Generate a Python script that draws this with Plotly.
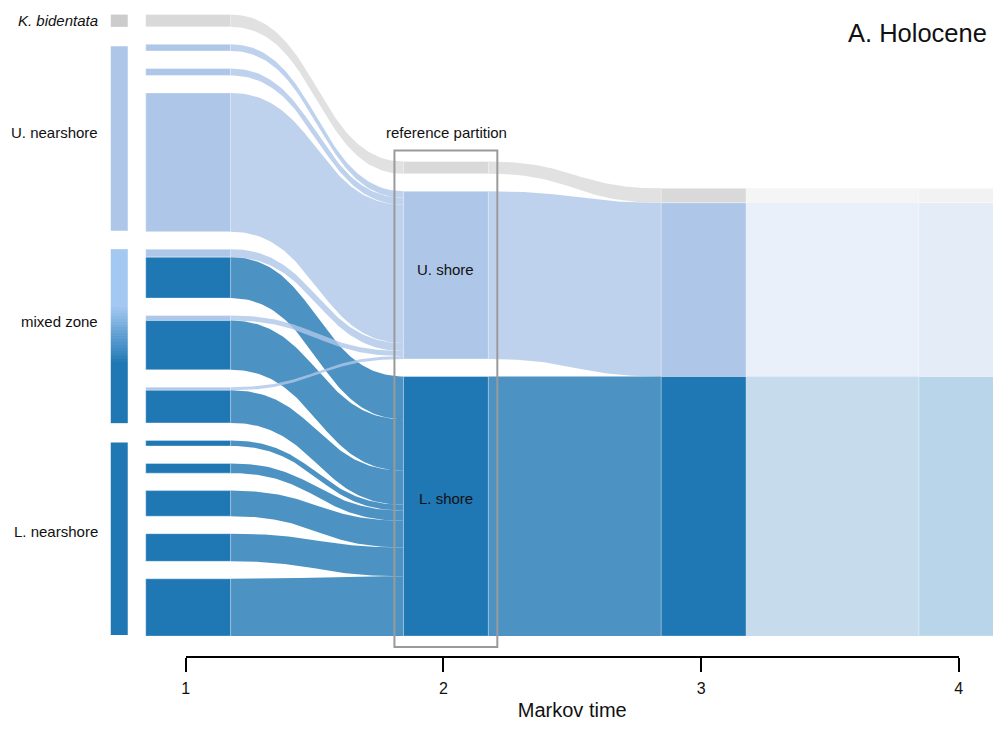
import numpy as np
import plotly.graph_objects as go

# ---------------- data ----------------
markov_time = [1, 2, 3, 4]
tick_text = ["1", "2", "3", "4"]

# reference modules (time 2 partition)
ref_modules = ["K", "U", "L"]
ref_labels = ["", "U. shore", "L. shore"]

# sub-modules at Markov time 1 (top to bottom) and the flow they send to each reference module
t1_group = ["K", "U", "U", "U", "M", "M", "M", "L", "L", "L", "L", "L"]
t1_flow_K = [12.3, 0, 0, 0, 0, 0, 0, 0, 0, 0, 0, 0]
t1_flow_U = [0, 6.6, 7.0, 139.0, 8.0, 5.0, 3.0, 0, 0, 0, 0, 0]
t1_flow_L = [0, 0, 0, 0, 41.0, 49.3, 32.7, 5.6, 9.7, 25.6, 27.7, 57.4]

# module sizes at Markov times 2, 3, 4 (K, U, L)
t2_size = [12.3, 168.0, 260.0]
t3_size = [14.4, 174.0, 260.0]
t4_size = [14.4, 174.0, 260.0]

group_keys = ["K", "U", "M", "L"]
group_labels = ["<i>K. bidentata</i>", "U. nearshore", "mixed zone", "L. nearshore"]

# ---------------- layout constants ----------------
PAGE_W, PAGE_H = 1006, 729
BODY = 8                      # default page margin around the figure
W, H = PAGE_W - 2 * BODY, PAGE_H - 2 * BODY
PX = 258.0          # pixels per Markov-time unit
X0PX = 186.0        # page pixel of Markov time 1
XA, XB = 4.2, 0.992  # observed horizontal rendering: page = XA + XB * intended
BOTTOM = 637.0
GAP = 17.5
NODE_L, NODE_R = -40.0, 45.0
FONT = "Liberation Sans, Arial, sans-serif"

node_col = {"K": "#d9d9d9", "U": "#aec7e8", "L": "#1f77b4"}
flow_col = {"K": "rgba(217,217,217,0.8)", "U": "rgba(174,199,232,0.8)", "L": "rgba(31,119,180,0.8)"}
node_col4 = {"K": "#f2f2f2", "U": "#e4ecf7", "L": "#b9d5ea"}
flow_col34 = {"K": "#f5f5f5", "U": "#eaf0f9", "L": "#c6dcec"}
bar_col = {"K": "#cccccc", "U": "#aec7e8", "L": "#1f77b4"}


def tx(t, dpx):
    return t + dpx / PX


def t_of_intended(p):
    # Markov-time value that should sit at intended page pixel p
    return 1 + ((XA + XB * p) - X0PX) / PX


def stack(sizes, gap):
    total = sum(sizes) + gap * (len(sizes) - 1)
    y = BOTTOM - total
    out = []
    for s in sizes:
        out.append((y, y + s))
        y += s + gap
    return out


def rect(x0, x1, y0, y1):
    return [x0, x1, x1, x0, x0], [y0, y0, y1, y1, y0]


def band(xa, ya0, ya1, xb, yb0, yb1, n=80):
    s = np.linspace(0, 1, n)
    xm = (xa + xb) / 2
    bx = (1 - s) ** 3 * xa + (3 * (1 - s) ** 2 * s + 3 * (1 - s) * s ** 2) * xm + s ** 3 * xb
    wa = (1 - s) ** 3 + 3 * (1 - s) ** 2 * s
    wb = 1 - wa
    top = wa * ya0 + wb * yb0
    bot = wa * ya1 + wb * yb1
    xs = np.concatenate([bx, bx[::-1], bx[:1]])
    ys = np.concatenate([top, bot[::-1], top[:1]])
    return xs, ys


fig = go.Figure()


def add_poly(xs, ys, color, line=None):
    fig.add_trace(go.Scatter(
        x=list(xs), y=list(ys), mode="lines", fill="toself", fillcolor=color,
        line=line or dict(width=0, color=color), hoverinfo="skip", showlegend=False))


# ---------------- column positions ----------------
t1_parts = [list(zip(["K", "U", "L"], [a, b, c])) for a, b, c in zip(t1_flow_K, t1_flow_U, t1_flow_L)]
t1_sizes = [sum(v for _, v in p) for p in t1_parts]
col1 = stack(t1_sizes, GAP)
col2 = stack(t2_size, GAP)
col3 = stack(t3_size, 0)
col4 = stack(t4_size, 0)

incoming = {k: 0.0 for k in ref_modules}
for p in t1_parts:
    for k, v in p:
        incoming[k] += v
scale = {k: t2_size[i] / incoming[k] for i, k in enumerate(ref_modules)}
tgt_cursor = {k: col2[i][0] for i, k in enumerate(ref_modules)}

# ---------------- flows time 1 -> 2 ----------------
xa = tx(1, NODE_R)
xb = tx(2, NODE_L)
t1_segments = []
for i, p in enumerate(t1_parts):
    y = col1[i][0]
    for k, v in p:
        if v <= 0:
            continue
        ya0, ya1 = y, y + v
        yb0 = tgt_cursor[k]
        yb1 = yb0 + v * scale[k]
        tgt_cursor[k] = yb1
        xs, ys = band(xa, ya0, ya1, xb, yb0, yb1)
        add_poly(xs, ys, flow_col[k])
        t1_segments.append((ya0, ya1, k))
        y = ya1

# ---------------- flows time 2 -> 3 and 3 -> 4 ----------------
for i, k in enumerate(ref_modules):
    xs, ys = band(tx(2, NODE_R), col2[i][0], col2[i][1], tx(3, NODE_L), col3[i][0], col3[i][1])
    add_poly(xs, ys, flow_col[k])
    xs, ys = band(tx(3, NODE_R), col3[i][0], col3[i][1], tx(4, NODE_L), col4[i][0], col4[i][1])
    add_poly(xs, ys, flow_col34[k])

# ---------------- nodes ----------------
edge = dict(width=1, color="rgba(255,255,255,0.35)")
for ya0, ya1, k in t1_segments:
    xs, ys = rect(tx(1, NODE_L), tx(1, NODE_R), ya0, ya1)
    add_poly(xs, ys, node_col[k], edge)
for i, k in enumerate(ref_modules):
    xs, ys = rect(tx(2, NODE_L), tx(2, NODE_R), col2[i][0], col2[i][1])
    add_poly(xs, ys, node_col[k], edge)
    xs, ys = rect(tx(3, NODE_L), tx(3, NODE_R), col3[i][0], col3[i][1])
    add_poly(xs, ys, node_col[k], edge)
    xs, ys = rect(tx(4, NODE_L), tx(4, NODE_R), col4[i][0], col4[i][1])
    add_poly(xs, ys, node_col4[k], edge)

# ---------------- group bars + labels on the left ----------------
bx0, bx1 = tx(1, -75), tx(1, -58)
label_dy = {"K": 0, "U": -6, "M": -15, "L": -7}
annotations = []
for g, lab in zip(group_keys, group_labels):
    idx = [i for i, gg in enumerate(t1_group) if gg == g]
    top = col1[idx[0]][0]
    bot = col1[idx[-1]][1]
    if g == "M":
        n = 60
        edges = np.linspace(top, bot, n + 1)
        z = [[(j + 0.5) / n] for j in range(n)]
        fig.add_trace(go.Heatmap(
            x=[bx0, bx1], y=edges, z=z, zmin=0, zmax=1, showscale=False, hoverinfo="skip",
            colorscale=[[0, "#a3c8f1"], [0.33, "#a3c8f1"], [0.66, "#1f77b4"], [1, "#1f77b4"]]))
    else:
        if g != "K":
            top, bot = top + 2, bot - 1
        xs, ys = rect(bx0, bx1, top, bot)
        add_poly(xs, ys, bar_col[g])
    annotations.append(dict(
        x=tx(1, -86), y=(top + bot) / 2 + label_dy[g], text=lab, showarrow=False,
        xanchor="right", yanchor="middle", font=dict(size=15, color="#111", family=FONT)))

label_shift = {"U": -6, "L": -8}
for i, lab in enumerate(ref_labels):
    if lab:
        annotations.append(dict(
            x=tx(2, 2.5), y=(col2[i][0] + col2[i][1]) / 2 + label_shift[ref_modules[i]], text=lab,
            showarrow=False, xanchor="center", yanchor="middle",
            font=dict(size=15, color="#111", family=FONT)))

annotations.append(dict(
    x=tx(2, 3), y=col2[0][0] - 29, text="reference partition", showarrow=False,
    xanchor="center", yanchor="middle", font=dict(size=15, color="#111", family=FONT)))
annotations.append(dict(
    x=tx(4, 30), y=33, text="A. Holocene", showarrow=False,
    xanchor="right", yanchor="middle", font=dict(size=25.5, color="#111", family=FONT)))

shapes = [dict(
    type="rect", xref="x", yref="y", layer="above",
    x0=tx(2, NODE_L - 9), x1=tx(2, NODE_R + 9), y0=col2[0][0] - 11, y1=BOTTOM + 11,
    line=dict(color="#9a9a9a", width=2), fillcolor="rgba(0,0,0,0)")]

fig.add_trace(go.Scatter(x=[1, 4], y=[None, None], xaxis="x2", yaxis="y",
                         mode="markers", showlegend=False, hoverinfo="skip"))

# intended page pixels of Markov time 1 and 4 after correction
p1 = (X0PX - XA) / XB
p4 = (X0PX + 3 * PX - XA) / XB

AXIS_Y = 658.0
fig.update_layout(
    width=W, height=H, margin=dict(l=0, r=0, t=0, b=0),
    paper_bgcolor="white", plot_bgcolor="rgba(0,0,0,0)",
    showlegend=False,
    xaxis=dict(range=[t_of_intended(BODY), t_of_intended(BODY + W)], visible=False, fixedrange=True),
    yaxis=dict(range=[BODY + H, BODY], visible=False, fixedrange=True),
    xaxis2=dict(
        domain=[(p1 - BODY) / W, (p4 - BODY) / W], range=[1, 4], anchor="free",
        position=(BODY + H - AXIS_Y) / H, showline=True, linecolor="black", linewidth=2,
        ticks="outside", ticklen=14, tickwidth=2, tickcolor="black",
        tickvals=markov_time, ticktext=tick_text, showgrid=False, zeroline=False,
        tickfont=dict(size=16, color="#111", family=FONT), ticklabelstandoff=3,
        title=dict(text="Markov time", font=dict(size=20, color="#111", family=FONT), standoff=10),
        fixedrange=True),
    annotations=annotations,
    shapes=shapes,
)

fig.write_html("out.html")
